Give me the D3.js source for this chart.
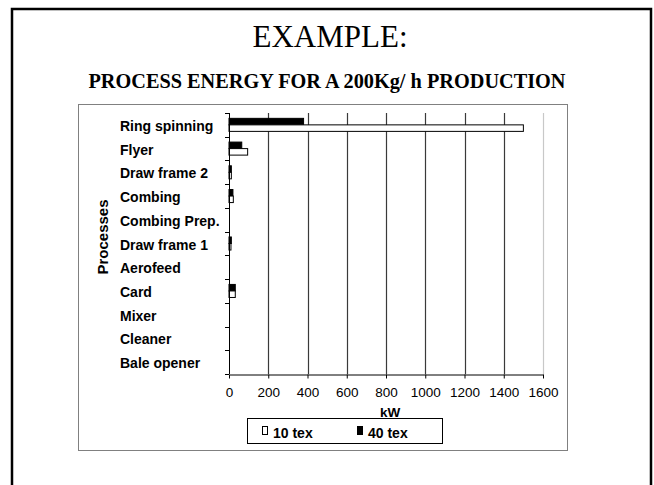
<!DOCTYPE html>
<html>
<head>
<meta charset="utf-8">
<script src="https://cdn.jsdelivr.net/npm/d3@7"></script>
<style>
    body { margin: 0; background: #fff; }
    svg { display: block; }
</style>
</head>
<body>
<svg width="654" height="485"></svg>
<script>
const categories = ["Ring spinning", "Flyer", "Draw frame 2", "Combing", "Combing Prep.",
    "Draw frame 1", "Aerofeed", "Card", "Mixer", "Cleaner", "Bale opener"];
const tex10 = [1500, 95, 12, 22, 0, 10, 0, 32, 0, 0, 0];
const tex40 = [380, 65, 12, 20, 0, 12, 0, 32, 0, 0, 0];
const seriesNames = ["40 tex", "10 tex"];
const xTicks = [0, 200, 400, 600, 800, 1000, 1200, 1400, 1600];

const svg = d3.select("svg");

const area = { left: 229, right: 543, top: 113, bottom: 374 };
const sans = "'Liberation Sans', Arial, sans-serif";
const serif = "'Liberation Serif', 'Times New Roman', serif";

// slide border (open at the bottom)
svg.append("path")
    .attr("d", "M12,485 L12,9 L651,9 L651,485")
    .attr("fill", "none")
    .attr("stroke", "#000")
    .attr("stroke-width", 2.5);

svg.append("text")
    .attr("x", 330).attr("y", 47)
    .attr("text-anchor", "middle")
    .style("font-family", serif)
    .style("font-size", "31px")
    .text("EXAMPLE:");

svg.append("text")
    .attr("x", 327).attr("y", 88)
    .attr("text-anchor", "middle")
    .style("font-family", serif)
    .style("font-size", "20.3px")
    .style("font-weight", "bold")
    .text("PROCESS ENERGY FOR A 200Kg/ h PRODUCTION");

// chart frame
svg.append("rect")
    .attr("x", 78.5).attr("y", 104.5)
    .attr("width", 489).attr("height", 346)
    .attr("fill", "none")
    .attr("stroke", "#808080")
    .attr("stroke-width", 1);

const scX = d3.scaleLinear()
    .domain([0, 1600])
    .range([area.left, area.right]);

const scY = d3.scaleBand()
    .domain(categories)
    .range([area.top, area.bottom])
    .padding(0);

const scInner = d3.scaleBand()
    .domain(seriesNames)
    .range([0, scY.bandwidth()])
    .paddingInner(0)
    .paddingOuter(0.82);

// grid lines
svg.append("g")
    .selectAll("line")
    .data(xTicks.slice(1))
    .enter()
    .append("line")
    .attr("x1", d => Math.round(scX(d)) + 0.5)
    .attr("x2", d => Math.round(scX(d)) + 0.5)
    .attr("y1", area.top)
    .attr("y2", area.bottom)
    .attr("stroke", d => d === 1600 ? "#c8c8c8" : "#3a3a3a")
    .attr("stroke-width", 1.2);

// bars
const rows = categories.map((c, i) => ({ cat: c, values: { "10 tex": tex10[i], "40 tex": tex40[i] } }));
const colors = { "40 tex": "#000", "10 tex": "#fff" };

seriesNames.forEach(name => {
    svg.append("g")
        .selectAll("rect")
        .data(rows.filter(d => d.values[name] > 0))
        .enter()
        .append("rect")
        .attr("x", scX(0))
        .attr("y", d => scY(d.cat) + scInner(name))
        .attr("width", d => scX(d.values[name]) - scX(0))
        .attr("height", scInner.bandwidth())
        .attr("fill", colors[name])
        .attr("stroke", "#000")
        .attr("stroke-width", 1);
});

// y axis with ticks on category boundaries
const yAxis = svg.append("g");
yAxis.append("line")
    .attr("x1", area.left + 0.5).attr("x2", area.left + 0.5)
    .attr("y1", area.top).attr("y2", area.bottom)
    .attr("stroke", "#000");
const bounds = categories.map(c => scY(c)).concat([area.bottom]);
yAxis.selectAll("line.tick")
    .data(bounds)
    .enter()
    .append("line")
    .attr("class", "tick")
    .attr("x1", area.left - 4).attr("x2", area.left)
    .attr("y1", d => Math.round(d) + 0.5)
    .attr("y2", d => Math.round(d) + 0.5)
    .attr("stroke", "#000");

svg.append("g")
    .selectAll("text")
    .data(categories)
    .enter()
    .append("text")
    .attr("x", 120)
    .attr("y", d => scY(d) + scY.bandwidth() / 2 + 6)
    .style("font-family", sans)
    .style("font-size", "14px")
    .style("font-weight", "bold")
    .text(d => d);

svg.append("text")
    .attr("transform", "translate(108, 237) rotate(-90)")
    .attr("text-anchor", "middle")
    .style("font-family", sans)
    .style("font-size", "15px")
    .style("font-weight", "bold")
    .text("Processes");

// x axis
const axisX = d3.axisBottom(scX)
    .tickValues(xTicks)
    .tickFormat(d3.format("d"))
    .tickSize(4)
    .tickSizeOuter(0)
    .tickPadding(9);

svg.append("g")
    .attr("transform", `translate(0, ${area.bottom + 0.5})`)
    .call(axisX)
    .call(g => g.selectAll("text")
        .style("font-family", sans)
        .style("font-size", "13.5px")
        .attr("fill", "#000"));

svg.append("text")
    .attr("x", 390).attr("y", 417)
    .attr("text-anchor", "middle")
    .style("font-family", sans)
    .style("font-size", "13.5px")
    .style("font-weight", "bold")
    .text("kW");

// legend
const legend = svg.append("g");
legend.append("rect")
    .attr("x", 247.5).attr("y", 418.5)
    .attr("width", 195).attr("height", 25)
    .attr("fill", "none")
    .attr("stroke", "#000");

const legendItems = [
    { name: "10 tex", x: 262 },
    { name: "40 tex", x: 357 }
];
legendItems.forEach(item => {
    legend.append("rect")
        .attr("x", item.x + 0.5).attr("y", 426.5)
        .attr("width", 5).attr("height", 8)
        .attr("fill", colors[item.name])
        .attr("stroke", "#000");
    legend.append("text")
        .attr("x", item.x + 11).attr("y", 438)
        .style("font-family", sans)
        .style("font-size", "14px")
        .style("font-weight", "bold")
        .text(item.name);
});
</script>
</body>
</html>
